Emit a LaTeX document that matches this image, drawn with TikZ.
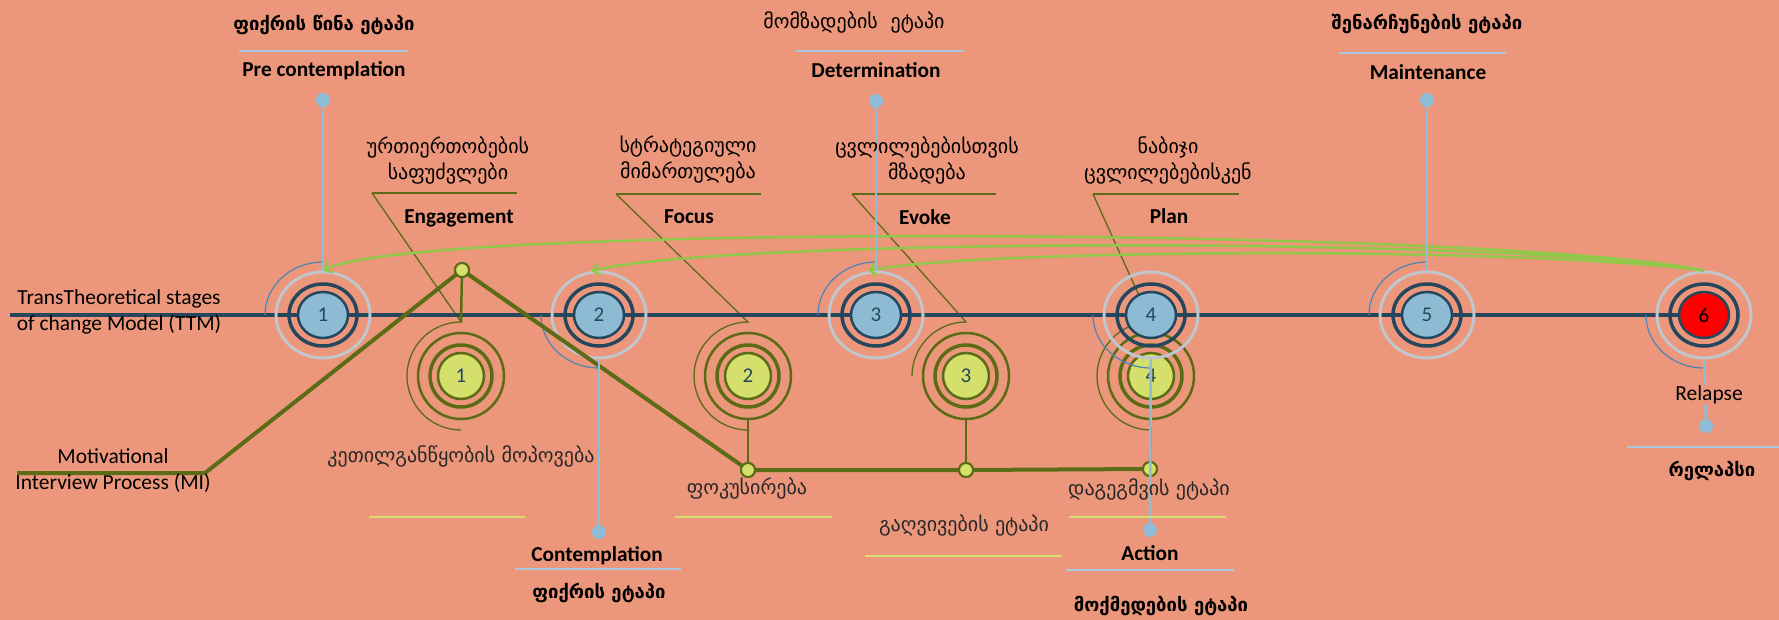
\documentclass[tikz,border=0pt]{standalone}
\usepackage{fontspec}
\setmainfont{Carlito}
\newfontfamily\geofont{DejaVu Sans}
\usetikzlibrary{shapes.geometric, arrows.meta}

\definecolor{salmon}{RGB}{236,151,123}
\definecolor{ttmnavy}{RGB}{36,71,94}
\definecolor{ttmblue}{RGB}{142,187,212}
\definecolor{halogray}{RGB}{192,198,204}
\definecolor{arcblue}{RGB}{74,134,184}
\definecolor{pinblue}{RGB}{143,188,214}
\definecolor{rulegray}{RGB}{172,200,222}
\definecolor{miolive}{RGB}{91,107,22}
\definecolor{migreen}{RGB}{212,224,107}
\definecolor{arrowgreen}{RGB}{146,200,74}
\definecolor{textgray}{RGB}{40,40,40}

\begin{document}
\begin{tikzpicture}[
  x = 1pt, y = -1pt,
  stage/.style = {
    shape = ellipse,
    draw = ttmnavy,
    line width = 2.5pt,
    fill = ttmblue,
    minimum width = 50pt,
    minimum height = 46pt,
    inner sep = 0pt,
    text = ttmnavy,
    font = \fontsize{21}{21}\selectfont,
  },
  stagering/.style = {
    shape = ellipse,
    draw = ttmnavy,
    line width = 3.5pt,
    minimum width = 68pt,
    minimum height = 62pt,
  },
  stagehalo/.style = {
    shape = ellipse,
    draw = halogray,
    line width = 3pt,
    minimum width = 94pt,
    minimum height = 86pt,
  },
  stagearc/.style = { draw = arcblue, line width = 1.2pt },
  mistage/.style = {
    shape = circle,
    draw = miolive,
    line width = 2.5pt,
    fill = migreen,
    minimum size = 46pt,
    inner sep = 0pt,
    text = ttmnavy,
    font = \fontsize{21}{21}\selectfont,
  },
  miring/.style = { shape = circle, draw = miolive, line width = 3.5pt, minimum size = 62pt },
  mihalo/.style = { shape = circle, draw = miolive, line width = 2.5pt, minimum size = 86pt },
  midot/.style = {
    shape = circle,
    draw = miolive,
    line width = 2pt,
    fill = migreen,
    minimum size = 14pt,
    inner sep = 0pt,
  },
  pin/.style = { shape = circle, fill = pinblue, minimum size = 14pt, inner sep = 0pt },
  pinline/.style = { draw = pinblue, line width = 2.5pt },
  rule/.style = { draw = rulegray, line width = 2.5pt },
  yellowrule/.style = { draw = migreen, line width = 2pt },
  callout/.style = { draw = miolive, line width = 1.3pt },
  calloutrule/.style = { draw = miolive, line width = 2pt },
  entitle/.style = { font = \bfseries\fontsize{21.3}{24}\selectfont },
  plain/.style = { font = \fontsize{21.5}{26}\selectfont, align = center },
  geotitle/.style = { font = \geofont\bfseries\fontsize{18.5}{26}\selectfont, align = center },
  geotext/.style = { font = \geofont\fontsize{20}{26}\selectfont, text = textgray, align = center },
]
  \fill[salmon] (0, 0) rectangle (1779, 620);
  \useasboundingbox (0, 0) rectangle (1779, 620);

  % MI circle 4 lies under TTM circle 4
  \node[mihalo] (o4) at (1151, 376) {};
  \node[miring] (k4) at (1151, 376) {};
  \node[mistage] (m4) at (1151, 376) {4};
  \coordinate (e4) at (1151, 322);

  % callouts of the MI stages
  \coordinate (e1) at (461, 322);
  \coordinate (e2) at (748, 322);
  \coordinate (e3) at (966, 322);
  \draw[calloutrule] (372, 193) -- (517, 193);
  \draw[calloutrule] (616, 194) -- (761, 194);
  \draw[calloutrule] (852, 194) -- (996, 194);
  \draw[calloutrule] (1093, 194) -- (1239, 194);
  \draw[callout] (372, 193) -- (e1) arc[start angle = 270, end angle = 90, radius = 54];
  \draw[callout] (616, 194) -- (e2) arc[start angle = 270, end angle = 90, radius = 54];
  \draw[callout] (852, 194) -- (e3) arc[start angle = 270, end angle = 180, radius = 54];
  \draw[callout] (1093, 194) -- (e4) arc[start angle = 270, end angle = 90, radius = 54];

  % TTM line
  \coordinate (ttm0) at (10, 315);
  \coordinate (ttm1) at (1704, 315);
  \draw[ttmnavy, line width = 4.5pt] (ttm0) -- (ttm1);

  \node[stagehalo] (g1) at (323, 315) {};
  \node[stagering] (n1) at (323, 315) {};
  \node[stage] (t1) at (323, 315) {1};
  \node[stagehalo] (g2) at (599, 315) {};
  \node[stagering] (n2) at (599, 315) {};
  \node[stage] (t2) at (599, 315) {2};
  \node[stagehalo] (g3) at (876, 315) {};
  \node[stagering] (n3) at (876, 315) {};
  \node[stage] (t3) at (876, 315) {3};
  \node[stagehalo] (g4) at (1151, 315) {};
  \node[stagering] (n4) at (1151, 315) {};
  \node[stage] (t4) at (1151, 315) {4};
  \node[stagehalo] (g5) at (1427, 315) {};
  \node[stagering] (n5) at (1427, 315) {};
  \node[stage] (t5) at (1427, 315) {5};
  \node[stagehalo] (g6) at (1704, 315) {};
  \node[stagering] (n6) at (1704, 315) {};
  \node[stage, fill = red, text = black] (t6) at (1704, 315) {6};

  \draw[stagearc] (t1.center) ++(-58, 0) arc[start angle = 180, end angle = 270, x radius = 58, y radius = 53];
  \draw[stagearc] (t2.center) ++(-58, 0) arc[start angle = 180, end angle = 90, x radius = 58, y radius = 53];
  \draw[stagearc] (t3.center) ++(-58, 0) arc[start angle = 180, end angle = 270, x radius = 58, y radius = 53];
  \draw[stagearc] (t4.center) ++(-58, 0) arc[start angle = 180, end angle = 90, x radius = 58, y radius = 53];
  \draw[stagearc] (t5.center) ++(-58, 0) arc[start angle = 180, end angle = 270, x radius = 58, y radius = 53];
  \draw[stagearc] (t6.center) ++(-58, 0) arc[start angle = 180, end angle = 90, x radius = 58, y radius = 53];

  % MI process
  \node[midot] (p0) at (462, 270) {};
  \node[midot] (p2) at (748, 470) {};
  \node[midot] (p3) at (966, 470) {};
  \node[midot] (p4) at (1150, 469) {};
  \coordinate (mi0) at (17, 473);
  \coordinate (mi1) at (205, 473);
  \draw[miolive, line width = 4pt, line join = round]
    (mi0) -- (mi1) -- (p0.center) -- (p2.center) -- (p3.center) -- (p4.center);

  \node[mihalo] (o1) at (461, 376) {};
  \node[miring] (k1) at (461, 376) {};
  \node[mistage] (m1) at (461, 376) {1};
  \node[mihalo] (o2) at (748, 376) {};
  \node[miring] (k2) at (748, 376) {};
  \node[mistage] (m2) at (748, 376) {2};
  \node[mihalo] (o3) at (966, 376) {};
  \node[miring] (k3) at (966, 376) {};
  \node[mistage] (m3) at (966, 376) {3};

  \draw[miolive, line width = 2.5pt] (p0) -- (e1);
  \draw[miolive, line width = 2.5pt] (p2) -- (o2);
  \draw[miolive, line width = 2.5pt] (p3) -- (o3);
  \draw[miolive, line width = 2.5pt] (p4) -- (o4);
  \node[midot] at (p0) {};
  \node[midot] at (p2) {};
  \node[midot] at (p3) {};
  \node[midot] at (p4) {};

  % relapse arrows back to earlier stages
  \begin{scope}[
    every path/.style = { draw = arrowgreen, line width = 2.5pt, -{Straight Barb[length = 6pt, width = 12pt]} }
  ]
    \draw (g6.north) .. controls (1500, 228) and (420, 222) .. (g1.north);
    \draw (g6.north) .. controls (1500, 236) and (720, 238) .. (g2.100);
    \draw (g6.north) .. controls (1500, 245) and (960, 250) .. (g3.100);
  \end{scope}

  % stage pins
  \node[pin] (d1) at (323, 100) {};
  \node[pin] (d2) at (599, 532) {};
  \node[pin] (d3) at (876, 101) {};
  \node[pin] (d4) at (1150, 530) {};
  \node[pin] (d5) at (1427, 100) {};
  \node[pin] (d6) at (1706, 426) {};
  \draw[pinline] (g1) -- (d1);
  \draw[pinline] (g2) -- (d2);
  \draw[pinline] (g3) -- (d3);
  \draw[pinline] (g4) -- (d4);
  \draw[pinline] (g5) -- (d5);
  \draw[pinline] (g6.south) -- (d6);

  % TTM labels
  \draw[rule] (239, 51) -- (408, 51);
  \draw[rule] (796, 51) -- (964, 51);
  \draw[rule] (1339, 53) -- (1506, 53);
  \draw[rule] (515, 569) -- (681, 569);
  \draw[rule] (1066, 570) -- (1234, 570);
  \draw[rule] (1627, 447) -- (1779, 447);
  \node[geotitle] (ka1) at (324, 25) {ფიქრის წინა ეტაპი};
  \node[entitle] (la1) at (324, 71) {Pre contemplation};
  \node[entitle] (la2) at (597, 556) {Contemplation};
  \node[geotitle] (ka2) at (599, 593) {ფიქრის ეტაპი};
  \node[geotext, text = black] (ka3) at (854, 22) {მომზადების\ \ ეტაპი};
  \node[entitle] (la3) at (876, 70) {Determination};
  \node[entitle] (la4) at (1150, 553) {Action};
  \node[geotitle] (ka4) at (1161, 606) {მოქმედების ეტაპი};
  \node[geotitle] (ka5) at (1427, 24) {შენარჩუნების ეტაპი};
  \node[entitle] (la5) at (1428, 72) {Maintenance};
  \node[plain, fill = salmon, inner sep = 1pt] (la6) at (1709, 395) {Relapse};
  \node[geotitle] (ka6) at (1712, 471) {რელაპსი};

  % MI labels
  \node[geotext, text = black] (kb1) at (448, 160) {ურთიერთობების\\საფუძვლები};
  \node[entitle] (lb1) at (459, 218) {Engagement};
  \node[geotext, text = black] (kb2) at (688, 160) {სტრატეგიული\\მიმართულება};
  \node[entitle] (lb2) at (689, 217) {Focus};
  \node[geotext, text = black] (kb3) at (927, 160) {ცვლილებებისთვის\\მზადება};
  \node[entitle] (lb3) at (925, 217) {Evoke};
  \node[geotext, text = black] (kb4) at (1168, 160) {ნაბიჯი\\ცვლილებებისკენ};
  \node[entitle] (lb4) at (1169, 216) {Plan};

  \draw[yellowrule] (369, 517) -- (525, 517);
  \draw[yellowrule] (675, 517) -- (832, 517);
  \draw[yellowrule] (1069, 517) -- (1226, 517);
  \draw[yellowrule] (865, 556) -- (1062, 556);
  \node[geotext] (kc1) at (461, 456) {კეთილგანწყობის მოპოვება};
  \node[geotext] (kc2) at (747, 488) {ფოკუსირება};
  \node[geotext] (kc3) at (964, 525) {გაღვივების ეტაპი};
  \node[geotext] (kc4) at (1149, 489) {დაგეგმვის ეტაპი};

  % model names
  \node[plain] (ttm) at (119, 312) {TransTheoretical stages\\of change Model (TTM)};
  \node[plain] (mi) at (113, 471) {Motivational\\Interview Process (MI)};
\end{tikzpicture}
\end{document}
